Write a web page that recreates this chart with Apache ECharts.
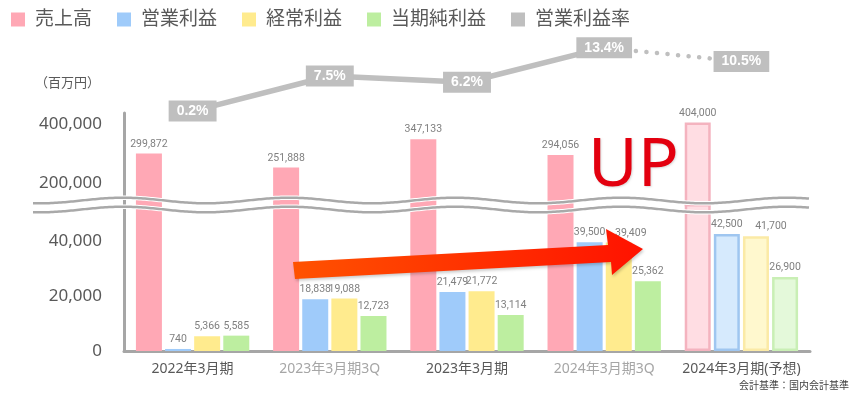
<!DOCTYPE html>
<html>
<head>
<meta charset="utf-8">
<script src="https://cdn.jsdelivr.net/npm/echarts@6/dist/echarts.min.js"></script>
<style>
html,body{margin:0;padding:0;background:#fff;}
#chart{width:863px;height:394px;}
</style>
</head>
<body>
<div id="chart"></div>
<script>
// ---- data ----
const categories = ['2022年3月期', '2023年3月期3Q', '2023年3月期', '2024年3月期3Q', '2024年3月期(予想)'];
const sales = [299872, 251888, 347133, 294056, 404000];
const operatingProfit = [740, 18838, 21479, 39500, 42500];
const ordinaryProfit = [5366, 19088, 21772, 39409, 41700];
const netProfit = [5585, 12723, 13114, 25362, 26900];
const operatingMargin = [0.2, 7.5, 6.2, 13.4, 10.5];
const forecastIndex = 4;
const lowerTicks = [0, 20000, 40000];
const upperTicks = [200000, 400000];
const seriesNames = ['売上高', '営業利益', '経常利益', '当期純利益', '営業利益率'];

// ---- styles ----
const FONT = "'Noto Sans', 'Noto Sans CJK JP', sans-serif";
const LABEL_FONT = "Roboto, 'Noto Sans', sans-serif";
const barColors = ['#ffa8b5', '#9fcbfa', '#ffeb8e', '#bdeea0'];
const fcFill = ['#ffdde3', '#d6eafd', '#fff8ce', '#e4f9da'];
const fcBorder = ['#f4b3bf', '#9fc6f0', '#fbeaa6', '#c9efb5'];
const axisGray = '#a6a6a6';
const lineGray = '#bfbfbf';
// label nudges (style only): series index -> {category index: [dx, dy]}
const labelNudge = {2: {3: [12, 0], 4: [15, 0]}};

const chart = echarts.init(document.getElementById('chart'), null, {renderer: 'canvas'});

function fmt(v) { return Number(v).toLocaleString('en-US'); }

function styled(arr, k) {
  return arr.map((v, i) => {
    const item = {value: v};
    if (i === forecastIndex) item.itemStyle = {color: fcFill[k], borderColor: fcBorder[k], borderWidth: 2.5};
    if (labelNudge[k] && labelNudge[k][i]) item.label = {offset: labelNudge[k][i]};
    return item;
  });
}

const blank = categories.map(() => '-');
const valueSets = [sales, operatingProfit, ordinaryProfit, netProfit];

function barSeries(k, grid, data, showLabel) {
  return {
    type: 'bar',
    name: seriesNames[k],
    xAxisIndex: grid,
    yAxisIndex: grid,
    data: data,
    barWidth: 26,
    barGap: '12%',
    itemStyle: {color: barColors[k]},
    clip: true,
    label: {
      show: showLabel,
      position: 'top',
      distance: 4,
      color: '#808080',
      fontSize: 10.5,
      fontFamily: LABEL_FONT,
      formatter: p => fmt(p.value)
    },
    emphasis: {disabled: true}
  };
}

const series = [];
// lower grid (0): all four bar series, sales clipped at break
for (let k = 0; k < 4; k++) {
  series.push(barSeries(k, 0, styled(valueSets[k], k), k !== 0));
}
// upper grid (1): only sales visible
series.push(barSeries(0, 1, styled(sales, 0), true));
for (let k = 1; k < 4; k++) series.push(barSeries(k, 1, blank, false));

// operating margin line (grid 2)
const marginLabel = {
  show: true,
  position: 'inside',
  formatter: p => p.value + '%',
  backgroundColor: lineGray,
  color: '#ffffff',
  fontSize: 14,
  fontWeight: 'bold',
  fontFamily: "'Liberation Sans', Arial, sans-serif",
  padding: [4, 8, 3, 8]
};
series.push({
  type: 'line',
  name: '営業利益率',
  xAxisIndex: 2, yAxisIndex: 2,
  data: operatingMargin.map((v, i) => i < forecastIndex ? v : '-'),
  symbol: 'circle', symbolSize: 1,
  itemStyle: {color: lineGray},
  lineStyle: {color: lineGray, width: 5.5},
  label: marginLabel,
  z: 5,
  emphasis: {disabled: true}
});
series.push({
  type: 'line',
  name: '営業利益率(予想)',
  xAxisIndex: 2, yAxisIndex: 2,
  data: operatingMargin.map((v, i) => i >= forecastIndex - 1
    ? (i === forecastIndex - 1 ? {value: v, label: {show: false}} : v) : '-'),
  symbol: 'circle', symbolSize: 1,
  itemStyle: {color: lineGray},
  lineStyle: {color: lineGray, width: 4.5, type: [0.1, 10.5], cap: 'round'},
  label: marginLabel,
  z: 4,
  emphasis: {disabled: true}
});

// wave (axis break) decoration
function wavePoints(c) {
  const pts = [];
  for (let x = 33; x <= 810; x += 2) {
    pts.push([x, c + 2.8 * Math.cos(2 * Math.PI * (x - 40) / 166)]);
  }
  return pts;
}
const waves = [];
[200.5, 209.5].forEach(c => {
  waves.push({type: 'polyline', shape: {points: wavePoints(c)}, style: {stroke: '#ffffff', lineWidth: 4.5, fill: null}, z: 50, silent: true});
});
[200.5, 209.5].forEach(c => {
  waves.push({type: 'polyline', shape: {points: wavePoints(c)}, style: {stroke: '#a9a9a9', lineWidth: 2.5, fill: null}, z: 51, silent: true});
});

const option = {
  animation: false,
  backgroundColor: '#ffffff',
  textStyle: {fontFamily: FONT},
  legend: {
    left: 6, top: 5,
    itemWidth: 14, itemHeight: 14, itemGap: 25,
    textStyle: {fontSize: 19, color: '#595959', fontFamily: FONT, padding: [0, 0, 0, 5]},
    selectedMode: false,
    data: seriesNames.map(n => ({name: n, icon: 'rect'}))
  },
  grid: [
    {left: 124, right: 53, top: 205, bottom: 43},
    {left: 124, right: 53, top: 113, bottom: 189},
    {left: 124, right: 53, top: 40, bottom: 282}
  ],
  xAxis: [
    {
      type: 'category', gridIndex: 0, data: categories,
      axisLine: {lineStyle: {color: axisGray, width: 3}},
      axisTick: {show: false},
      axisLabel: {
        interval: 0,
        fontSize: 14, margin: 11, fontFamily: FONT,
        color: (v) => (String(v).indexOf('3Q') >= 0) ? '#a6a6a6' : '#595959'
      }
    },
    {type: 'category', gridIndex: 1, data: categories, show: false},
    {type: 'category', gridIndex: 2, data: categories, show: false}
  ],
  yAxis: [
    {
      type: 'value', gridIndex: 0, min: 0, max: 53090,
      axisLine: {show: true, lineStyle: {color: axisGray, width: 3}},
      axisTick: {show: false},
      splitLine: {show: false},
      axisLabel: {
        customValues: lowerTicks, fontSize: 17, color: '#595959', margin: 22,
        fontFamily: FONT, formatter: v => fmt(v)
      }
    },
    {
      type: 'value', gridIndex: 1, min: 125900, max: 436000,
      axisLine: {show: true, lineStyle: {color: axisGray, width: 3}},
      axisTick: {show: false},
      splitLine: {show: false},
      axisLabel: {
        customValues: upperTicks, fontSize: 17, color: '#595959', margin: 22,
        fontFamily: FONT, formatter: v => fmt(v)
      }
    },
    {type: 'value', gridIndex: 2, min: 0, max: 15, show: false, splitLine: {show: false}}
  ],
  series: series,
  graphic: waves.concat([
    {
      type: 'text', left: 35, top: 77, silent: true,
      style: {text: '（百万円）', fontSize: 13, fill: '#595959', fontFamily: FONT}
    },
    {
      type: 'polygon', z: 100, silent: true,
      shape: {points: [[293, 262], [608, 245], [606, 229], [643, 249], [612, 275], [611, 262], [295, 279]]},
      style: {
        fill: new echarts.graphic.LinearGradient(0, 0, 1, 0, [
          {offset: 0, color: '#ff5200'},
          {offset: 1, color: '#ff1200'}
        ]),
        shadowColor: 'rgba(0,0,0,0.2)', shadowBlur: 3, shadowOffsetX: 1, shadowOffsetY: 2
      }
    },
    {
      type: 'text', z: 100, silent: true,
      x: 588, y: 167,
      style: {
        text: 'UP', fontSize: 68, fill: '#e3000f', fontFamily: "'Noto Sans', sans-serif",
        fontWeight: 'normal', verticalAlign: 'middle', align: 'left',
        textShadowColor: 'rgba(0,0,0,0.15)', textShadowBlur: 2, textShadowOffsetX: 1, textShadowOffsetY: 1
      }
    },
    {
      type: 'text', silent: true, x: 849, y: 386,
      style: {text: '会計基準：国内会計基準', fontSize: 10, fill: '#404040', fontFamily: FONT, align: 'right', verticalAlign: 'middle'}
    }
  ])
};

chart.setOption(option);
</script>
</body>
</html>
